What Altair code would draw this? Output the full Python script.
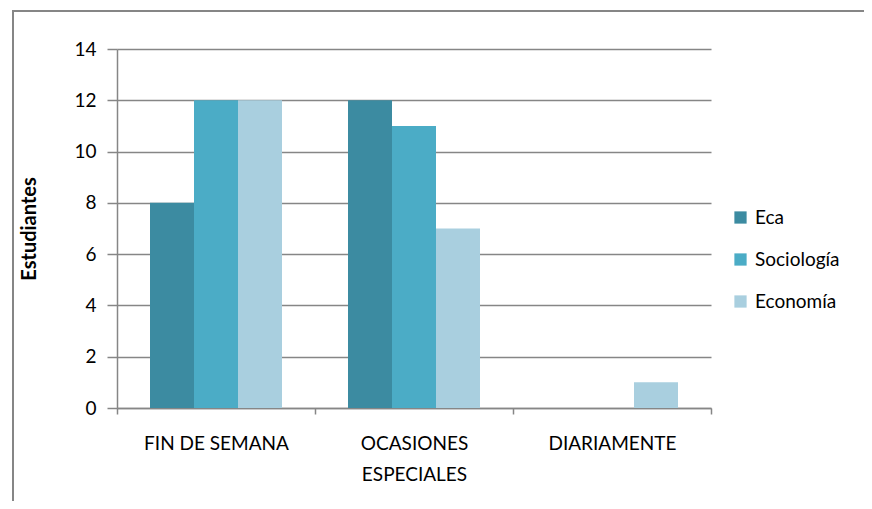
import altair as alt
import pandas as pd

categories = ["FIN DE SEMANA", "OCASIONES\nESPECIALES", "DIARIAMENTE"]
series = ["Eca", "Sociología", "Economía"]
eca = [8, 12, 0]
sociologia = [12, 11, 0]
economia = [12, 7, 1]
colors = ["#3C8BA1", "#4BACC6", "#A9CFDF"]

rows = []
for i, c in enumerate(categories):
    for s, vals in zip(series, [eca, sociologia, economia]):
        rows.append({"cat": c, "serie": s, "val": vals[i]})
df = pd.DataFrame(rows)
frame = pd.DataFrame({"k": [0]})

FONT = "Lato"
W, H = 594, 359

bars = alt.Chart(df).mark_bar().encode(
    x=alt.X("cat:N", sort=categories, title=None,
            scale=alt.Scale(paddingInner=0, paddingOuter=0),
            axis=alt.Axis(labelAngle=0, tickBand="extent", labelExpr="split(datum.label, '\\n')",
                          labelFontSize=19, labelFont=FONT, labelColor="#000000",
                          labelPadding=20, labelLineHeight=31, tickSize=6, tickColor="#868686",
                          domainColor="#868686", domainWidth=1.5, tickWidth=1.5, grid=False)),
    xOffset=alt.XOffset("serie:N", sort=series,
                        scale=alt.Scale(paddingInner=0, paddingOuter=0.75)),
    y=alt.Y("val:Q", title="Estudiantes",
            scale=alt.Scale(domain=[0, 14], nice=False),
            axis=alt.Axis(values=[0, 2, 4, 6, 8, 10, 12, 14], labelFontSize=19, labelFont=FONT,
                          labelColor="#000000", labelPadding=11, tickSize=10, tickColor="#868686",
                          tickWidth=1.5, domainColor="#868686", domainWidth=1.5,
                          gridColor="#868686", gridWidth=1.5,
                          titleFont=FONT, titleFontSize=20, titleFontWeight="bold",
                          titleColor="#000000", titlePadding=34)),
    color=alt.Color("serie:N", sort=series,
                    scale=alt.Scale(domain=series, range=colors),
                    legend=alt.Legend(title=None, orient="none", legendX=614, legendY=159,
                                      symbolType="square", symbolSize=150, symbolStrokeWidth=0,
                                      labelFont=FONT, labelFontSize=19, labelColor="#000000",
                                      rowPadding=22, labelOffset=5)),
)

frame_box = alt.Chart(frame).mark_rect(fill=None, fillOpacity=0, stroke="#868686", strokeWidth=2).encode(
    x=alt.value(-104), x2=alt.value(800), y=alt.value(-38), y2=alt.value(520))

chart = alt.layer(frame_box, bars).properties(
    width=W, height=H,
    autosize=alt.AutoSizeParams(type="none"),
    padding={"left": 109, "top": 41, "right": 153, "bottom": 93},
).configure_view(stroke=None)

chart.save("out.html", embed_options={"renderer": "svg", "actions": False})
